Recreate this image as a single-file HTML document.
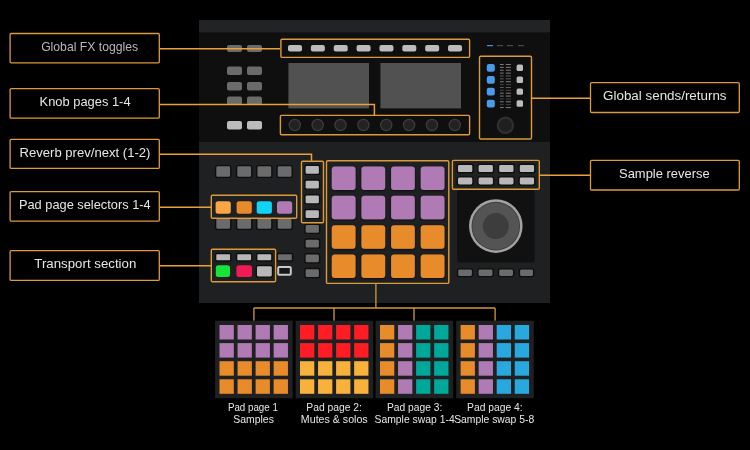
<!DOCTYPE html>
<html><head><meta charset="utf-8"><style>
html,body{margin:0;padding:0;background:#000;width:750px;height:450px;overflow:hidden}
svg{display:block}
text{font-family:"Liberation Sans",sans-serif}
</style></head><body>
<svg width="750" height="450" viewBox="0 0 750 450">
<defs><filter id="sh" x="-30%" y="-30%" width="160%" height="170%"><feDropShadow dx="0" dy="0.6" stdDeviation="0.9" flood-color="#000" flood-opacity="0.8"/></filter></defs>
<rect width="750" height="450" fill="#000"/>
<rect x="199.00" y="20.00" width="351.00" height="283.00" rx="0" fill="#1f2022" />
<rect x="199.00" y="20.00" width="351.00" height="12.50" rx="0" fill="#212325" />
<rect x="199.00" y="32.50" width="351.00" height="109.50" rx="0" fill="#0f0f0f" />
<rect x="227.00" y="45.00" width="15.00" height="7.00" rx="2" fill="#6b6b6b" />
<rect x="227.00" y="66.40" width="15.00" height="8.50" rx="2" fill="#6b6b6b" />
<rect x="227.00" y="82.00" width="15.00" height="8.50" rx="2" fill="#6b6b6b" />
<rect x="227.00" y="96.50" width="15.00" height="8.50" rx="2" fill="#6b6b6b" />
<rect x="227.00" y="121.00" width="15.00" height="8.60" rx="2" fill="#bcbcbc" />
<rect x="247.00" y="45.00" width="15.00" height="7.00" rx="2" fill="#6b6b6b" />
<rect x="247.00" y="66.40" width="15.00" height="8.50" rx="2" fill="#6b6b6b" />
<rect x="247.00" y="82.00" width="15.00" height="8.50" rx="2" fill="#6b6b6b" />
<rect x="247.00" y="96.50" width="15.00" height="8.50" rx="2" fill="#6b6b6b" />
<rect x="247.00" y="121.00" width="15.00" height="8.60" rx="2" fill="#bcbcbc" />
<rect x="288.40" y="63.00" width="80.60" height="45.40" rx="0" fill="#515151" />
<rect x="380.40" y="63.00" width="80.60" height="45.40" rx="0" fill="#515151" />
<rect x="288.00" y="45.00" width="14.00" height="6.50" rx="2" fill="#bcbcbc" />
<rect x="310.86" y="45.00" width="14.00" height="6.50" rx="2" fill="#bcbcbc" />
<rect x="333.72" y="45.00" width="14.00" height="6.50" rx="2" fill="#bcbcbc" />
<rect x="356.58" y="45.00" width="14.00" height="6.50" rx="2" fill="#bcbcbc" />
<rect x="379.44" y="45.00" width="14.00" height="6.50" rx="2" fill="#bcbcbc" />
<rect x="402.30" y="45.00" width="14.00" height="6.50" rx="2" fill="#bcbcbc" />
<rect x="425.16" y="45.00" width="14.00" height="6.50" rx="2" fill="#bcbcbc" />
<rect x="448.02" y="45.00" width="14.00" height="6.50" rx="2" fill="#bcbcbc" />
<circle cx="294.80" cy="125.00" r="5.60" fill="#222222" stroke="#3c3c3c" stroke-width="1.3"/>
<circle cx="317.66" cy="125.00" r="5.60" fill="#222222" stroke="#3c3c3c" stroke-width="1.3"/>
<circle cx="340.52" cy="125.00" r="5.60" fill="#222222" stroke="#3c3c3c" stroke-width="1.3"/>
<circle cx="363.38" cy="125.00" r="5.60" fill="#222222" stroke="#3c3c3c" stroke-width="1.3"/>
<circle cx="386.24" cy="125.00" r="5.60" fill="#222222" stroke="#3c3c3c" stroke-width="1.3"/>
<circle cx="409.10" cy="125.00" r="5.60" fill="#222222" stroke="#3c3c3c" stroke-width="1.3"/>
<circle cx="431.96" cy="125.00" r="5.60" fill="#222222" stroke="#3c3c3c" stroke-width="1.3"/>
<circle cx="454.82" cy="125.00" r="5.60" fill="#222222" stroke="#3c3c3c" stroke-width="1.3"/>
<rect x="487.00" y="45.00" width="6.00" height="1.20" rx="0" fill="#4a90e2" />
<rect x="497.00" y="45.00" width="6.00" height="1.20" rx="0" fill="#4a4a4a" />
<rect x="507.00" y="45.00" width="6.00" height="1.20" rx="0" fill="#4a4a4a" />
<rect x="518.00" y="45.00" width="6.00" height="1.20" rx="0" fill="#4a4a4a" />
<rect x="486.80" y="64.00" width="8.00" height="7.80" rx="2" fill="#4a9be8" />
<rect x="516.60" y="64.60" width="6.40" height="6.40" rx="1.5" fill="#bcbcbc" />
<rect x="486.80" y="75.90" width="8.00" height="7.80" rx="2" fill="#4a9be8" />
<rect x="516.60" y="76.50" width="6.40" height="6.40" rx="1.5" fill="#bcbcbc" />
<rect x="486.80" y="87.80" width="8.00" height="7.80" rx="2" fill="#4a9be8" />
<rect x="516.60" y="88.40" width="6.40" height="6.40" rx="1.5" fill="#bcbcbc" />
<rect x="486.80" y="99.70" width="8.00" height="7.80" rx="2" fill="#4a9be8" />
<rect x="516.60" y="100.30" width="6.40" height="6.40" rx="1.5" fill="#bcbcbc" />
<rect x="500.00" y="64.00" width="3.70" height="1.00" rx="0" fill="#7c7c7c" />
<rect x="505.80" y="64.00" width="5.10" height="1.00" rx="0" fill="#7c7c7c" />
<rect x="500.00" y="66.87" width="3.70" height="1.00" rx="0" fill="#7c7c7c" />
<rect x="505.80" y="66.87" width="5.10" height="1.00" rx="0" fill="#7c7c7c" />
<rect x="500.00" y="69.74" width="3.70" height="1.00" rx="0" fill="#7c7c7c" />
<rect x="505.80" y="69.74" width="5.10" height="1.00" rx="0" fill="#7c7c7c" />
<rect x="500.00" y="72.61" width="3.70" height="1.00" rx="0" fill="#7c7c7c" />
<rect x="505.80" y="72.61" width="5.10" height="1.00" rx="0" fill="#7c7c7c" />
<rect x="500.00" y="75.48" width="3.70" height="1.00" rx="0" fill="#5e5e5e" />
<rect x="505.80" y="75.48" width="5.10" height="1.00" rx="0" fill="#5e5e5e" />
<rect x="500.00" y="78.35" width="3.70" height="1.00" rx="0" fill="#5e5e5e" />
<rect x="505.80" y="78.35" width="5.10" height="1.00" rx="0" fill="#5e5e5e" />
<rect x="500.00" y="81.22" width="3.70" height="1.00" rx="0" fill="#7c7c7c" />
<rect x="505.80" y="81.22" width="5.10" height="1.00" rx="0" fill="#7c7c7c" />
<rect x="500.00" y="84.09" width="3.70" height="1.00" rx="0" fill="#454545" />
<rect x="505.80" y="84.09" width="5.10" height="1.00" rx="0" fill="#454545" />
<rect x="500.00" y="86.96" width="3.70" height="1.00" rx="0" fill="#5e5e5e" />
<rect x="505.80" y="86.96" width="5.10" height="1.00" rx="0" fill="#5e5e5e" />
<rect x="500.00" y="89.83" width="3.70" height="1.00" rx="0" fill="#454545" />
<rect x="505.80" y="89.83" width="5.10" height="1.00" rx="0" fill="#454545" />
<rect x="500.00" y="92.70" width="3.70" height="1.00" rx="0" fill="#7c7c7c" />
<rect x="505.80" y="92.70" width="5.10" height="1.00" rx="0" fill="#7c7c7c" />
<rect x="500.00" y="95.57" width="3.70" height="1.00" rx="0" fill="#7c7c7c" />
<rect x="505.80" y="95.57" width="5.10" height="1.00" rx="0" fill="#7c7c7c" />
<rect x="500.00" y="98.44" width="3.70" height="1.00" rx="0" fill="#454545" />
<rect x="505.80" y="98.44" width="5.10" height="1.00" rx="0" fill="#454545" />
<rect x="500.00" y="101.31" width="3.70" height="1.00" rx="0" fill="#7c7c7c" />
<rect x="505.80" y="101.31" width="5.10" height="1.00" rx="0" fill="#7c7c7c" />
<rect x="500.00" y="104.18" width="3.70" height="1.00" rx="0" fill="#454545" />
<rect x="505.80" y="104.18" width="5.10" height="1.00" rx="0" fill="#454545" />
<rect x="500.00" y="107.05" width="3.70" height="1.00" rx="0" fill="#7c7c7c" />
<rect x="505.80" y="107.05" width="5.10" height="1.00" rx="0" fill="#7c7c7c" />
<rect x="500" y="76" width="10.9" height="3.5" fill="#111" opacity="0"/>
<circle cx="505.40" cy="125.30" r="7.60" fill="#1f1f1f" stroke="#303030" stroke-width="2.2"/>
<rect x="215.60" y="165.60" width="15.20" height="11.80" rx="2" fill="#6b6b6b" stroke="#0e0e0e" stroke-width="1.4"/>
<rect x="215.60" y="217.60" width="15.20" height="11.80" rx="2" fill="#6b6b6b" stroke="#0e0e0e" stroke-width="1.4"/>
<rect x="236.60" y="165.60" width="15.20" height="11.80" rx="2" fill="#6b6b6b" stroke="#0e0e0e" stroke-width="1.4"/>
<rect x="236.60" y="217.60" width="15.20" height="11.80" rx="2" fill="#6b6b6b" stroke="#0e0e0e" stroke-width="1.4"/>
<rect x="256.70" y="165.60" width="15.20" height="11.80" rx="2" fill="#6b6b6b" stroke="#0e0e0e" stroke-width="1.4"/>
<rect x="256.70" y="217.60" width="15.20" height="11.80" rx="2" fill="#6b6b6b" stroke="#0e0e0e" stroke-width="1.4"/>
<rect x="277.00" y="165.60" width="15.20" height="11.80" rx="2" fill="#6b6b6b" stroke="#0e0e0e" stroke-width="1.4"/>
<rect x="277.00" y="217.60" width="15.20" height="11.80" rx="2" fill="#6b6b6b" stroke="#0e0e0e" stroke-width="1.4"/>
<rect x="215.60" y="201.30" width="15.20" height="12.40" rx="2.5" fill="#f9a646" />
<rect x="236.60" y="201.30" width="15.20" height="12.40" rx="2.5" fill="#e88a2b" />
<rect x="256.70" y="201.30" width="15.20" height="12.40" rx="2.5" fill="#12d3f3" />
<rect x="277.00" y="201.30" width="15.20" height="12.40" rx="2.5" fill="#b07ab5" />
<rect x="304.90" y="165.20" width="14.70" height="9.20" rx="2" fill="#b8b8b8" stroke="#0e0e0e" stroke-width="1.4"/>
<rect x="304.90" y="179.95" width="14.70" height="9.20" rx="2" fill="#b8b8b8" stroke="#0e0e0e" stroke-width="1.4"/>
<rect x="304.90" y="194.70" width="14.70" height="9.20" rx="2" fill="#b8b8b8" stroke="#0e0e0e" stroke-width="1.4"/>
<rect x="304.90" y="209.45" width="14.70" height="9.20" rx="2" fill="#b8b8b8" stroke="#0e0e0e" stroke-width="1.4"/>
<rect x="304.90" y="224.20" width="14.70" height="9.20" rx="2" fill="#6b6b6b" stroke="#0e0e0e" stroke-width="1.4"/>
<rect x="304.90" y="238.95" width="14.70" height="9.20" rx="2" fill="#6b6b6b" stroke="#0e0e0e" stroke-width="1.4"/>
<rect x="304.90" y="253.70" width="14.70" height="9.20" rx="2" fill="#6b6b6b" stroke="#0e0e0e" stroke-width="1.4"/>
<rect x="304.90" y="268.45" width="14.70" height="9.20" rx="2" fill="#6b6b6b" stroke="#0e0e0e" stroke-width="1.4"/>
<rect x="215.60" y="253.50" width="15.20" height="7.50" rx="1.5" fill="#b8b8b8" stroke="#0e0e0e" stroke-width="1.4"/>
<rect x="236.60" y="253.50" width="15.20" height="7.50" rx="1.5" fill="#b8b8b8" stroke="#0e0e0e" stroke-width="1.4"/>
<rect x="256.70" y="253.50" width="15.20" height="7.50" rx="1.5" fill="#b8b8b8" stroke="#0e0e0e" stroke-width="1.4"/>
<rect x="277.20" y="253.50" width="15.30" height="7.50" rx="1.5" fill="#6b6b6b" stroke="#0e0e0e" stroke-width="1.4"/>
<rect x="215.80" y="265.30" width="14.20" height="11.70" rx="2.5" fill="#19e33b" />
<rect x="236.40" y="265.30" width="15.60" height="11.70" rx="2.5" fill="#f01b55" />
<rect x="256.30" y="265.50" width="16.20" height="11.60" rx="2" fill="#b8b8b8" stroke="#0e0e0e" stroke-width="1.4"/>
<rect x="278.2" y="267" width="12.6" height="7.7" rx="1" fill="#161616" stroke="#c8c8c8" stroke-width="2"/>
<rect x="331.80" y="166.40" width="23.70" height="23.50" rx="3" fill="#b07ab5" filter="url(#sh)"/>
<rect x="361.45" y="166.40" width="23.70" height="23.50" rx="3" fill="#b07ab5" filter="url(#sh)"/>
<rect x="391.10" y="166.40" width="23.70" height="23.50" rx="3" fill="#b07ab5" filter="url(#sh)"/>
<rect x="420.75" y="166.40" width="23.70" height="23.50" rx="3" fill="#b07ab5" filter="url(#sh)"/>
<rect x="331.80" y="195.80" width="23.70" height="23.50" rx="3" fill="#b07ab5" filter="url(#sh)"/>
<rect x="361.45" y="195.80" width="23.70" height="23.50" rx="3" fill="#b07ab5" filter="url(#sh)"/>
<rect x="391.10" y="195.80" width="23.70" height="23.50" rx="3" fill="#b07ab5" filter="url(#sh)"/>
<rect x="420.75" y="195.80" width="23.70" height="23.50" rx="3" fill="#b07ab5" filter="url(#sh)"/>
<rect x="331.80" y="225.20" width="23.70" height="23.50" rx="3" fill="#e88b2b" filter="url(#sh)"/>
<rect x="361.45" y="225.20" width="23.70" height="23.50" rx="3" fill="#e88b2b" filter="url(#sh)"/>
<rect x="391.10" y="225.20" width="23.70" height="23.50" rx="3" fill="#e88b2b" filter="url(#sh)"/>
<rect x="420.75" y="225.20" width="23.70" height="23.50" rx="3" fill="#e88b2b" filter="url(#sh)"/>
<rect x="331.80" y="254.60" width="23.70" height="23.50" rx="3" fill="#e88b2b" filter="url(#sh)"/>
<rect x="361.45" y="254.60" width="23.70" height="23.50" rx="3" fill="#e88b2b" filter="url(#sh)"/>
<rect x="391.10" y="254.60" width="23.70" height="23.50" rx="3" fill="#e88b2b" filter="url(#sh)"/>
<rect x="420.75" y="254.60" width="23.70" height="23.50" rx="3" fill="#e88b2b" filter="url(#sh)"/>
<rect x="457.30" y="164.30" width="15.70" height="8.40" rx="2" fill="#b8b8b8" stroke="#0e0e0e" stroke-width="1.4"/>
<rect x="457.30" y="176.90" width="15.70" height="8.20" rx="2" fill="#b8b8b8" stroke="#0e0e0e" stroke-width="1.4"/>
<rect x="477.90" y="164.30" width="15.70" height="8.40" rx="2" fill="#b8b8b8" stroke="#0e0e0e" stroke-width="1.4"/>
<rect x="477.90" y="176.90" width="15.70" height="8.20" rx="2" fill="#b8b8b8" stroke="#0e0e0e" stroke-width="1.4"/>
<rect x="498.50" y="164.30" width="15.70" height="8.40" rx="2" fill="#b8b8b8" stroke="#0e0e0e" stroke-width="1.4"/>
<rect x="498.50" y="176.90" width="15.70" height="8.20" rx="2" fill="#b8b8b8" stroke="#0e0e0e" stroke-width="1.4"/>
<rect x="519.10" y="164.30" width="15.70" height="8.40" rx="2" fill="#b8b8b8" stroke="#0e0e0e" stroke-width="1.4"/>
<rect x="519.10" y="176.90" width="15.70" height="8.20" rx="2" fill="#b8b8b8" stroke="#0e0e0e" stroke-width="1.4"/>
<rect x="457.00" y="190.00" width="77.70" height="72.40" rx="2" fill="#111111" />
<circle cx="495.80" cy="226.10" r="26.80" fill="#a2a2a2" stroke="none" stroke-width="0"/>
<circle cx="495.80" cy="226.10" r="24.30" fill="#3e3e3e" stroke="none" stroke-width="0"/>
<circle cx="495.80" cy="226.10" r="23.40" fill="#545454" stroke="none" stroke-width="0"/>
<circle cx="495.80" cy="226.10" r="13.00" fill="#3d3d3d" stroke="none" stroke-width="0"/>
<rect x="457.50" y="268.90" width="15.10" height="7.70" rx="2" fill="#6b6b6b" stroke="#0e0e0e" stroke-width="1.4"/>
<rect x="477.80" y="268.90" width="15.40" height="7.70" rx="2" fill="#6b6b6b" stroke="#0e0e0e" stroke-width="1.4"/>
<rect x="498.50" y="268.90" width="15.20" height="7.70" rx="2" fill="#6b6b6b" stroke="#0e0e0e" stroke-width="1.4"/>
<rect x="519.40" y="268.90" width="14.30" height="7.70" rx="2" fill="#6b6b6b" stroke="#0e0e0e" stroke-width="1.4"/>
<rect x="280.90" y="39.20" width="188.70" height="18.20" rx="1.2" fill="none" stroke="#dc9b3a" stroke-width="1.4"/>
<rect x="280.40" y="115.40" width="189.20" height="19.40" rx="1.2" fill="none" stroke="#dc9b3a" stroke-width="1.4"/>
<rect x="479.50" y="56.30" width="52.00" height="82.70" rx="1.2" fill="none" stroke="#dc9b3a" stroke-width="1.4"/>
<rect x="301.50" y="161.20" width="22.00" height="61.60" rx="1.2" fill="none" stroke="#dc9b3a" stroke-width="1.4"/>
<rect x="211.30" y="195.30" width="85.40" height="23.00" rx="1.2" fill="none" stroke="#dc9b3a" stroke-width="1.4"/>
<rect x="211.30" y="249.30" width="64.30" height="32.50" rx="1.2" fill="none" stroke="#dc9b3a" stroke-width="1.4"/>
<rect x="326.50" y="160.80" width="122.30" height="122.60" rx="1.2" fill="none" stroke="#dc9b3a" stroke-width="1.4"/>
<rect x="452.40" y="160.40" width="86.90" height="28.90" rx="1.2" fill="none" stroke="#dc9b3a" stroke-width="1.4"/>
<path d="M160.00 48.80 L280.00 48.80" fill="none" stroke="#e9a23b" stroke-width="1.5"/>
<path d="M160.00 104.40 L374.40 104.40 L374.40 115.40" fill="none" stroke="#e9a23b" stroke-width="1.5"/>
<path d="M160.00 154.20 L311.50 154.20 L311.50 160.80" fill="none" stroke="#e9a23b" stroke-width="1.5"/>
<path d="M160.00 207.30 L211.40 207.30" fill="none" stroke="#e9a23b" stroke-width="1.5"/>
<path d="M160.00 265.70 L211.40 265.70" fill="none" stroke="#e9a23b" stroke-width="1.5"/>
<path d="M531.50 98.20 L590.00 98.20" fill="none" stroke="#e9a23b" stroke-width="1.5"/>
<path d="M539.30 175.20 L590.00 175.20" fill="none" stroke="#e9a23b" stroke-width="1.5"/>
<path d="M375.90 283.40 L375.90 308.00" fill="none" stroke="#d39838" stroke-width="1.3"/>
<path d="M253.90 308.00 L495.10 308.00" fill="none" stroke="#d39838" stroke-width="1.3"/>
<path d="M253.90 308.00 L253.90 320.70" fill="none" stroke="#d39838" stroke-width="1.3"/>
<path d="M334.00 308.00 L334.00 320.70" fill="none" stroke="#d39838" stroke-width="1.3"/>
<path d="M414.00 308.00 L414.00 320.70" fill="none" stroke="#d39838" stroke-width="1.3"/>
<path d="M495.10 308.00 L495.10 320.70" fill="none" stroke="#d39838" stroke-width="1.3"/>
<rect x="10.10" y="33.50" width="149.20" height="29.30" rx="1.2" fill="#000" stroke="#dc9b3a" stroke-width="1.3"/>
<rect x="10.10" y="88.60" width="149.20" height="29.60" rx="1.2" fill="#000" stroke="#dc9b3a" stroke-width="1.3"/>
<rect x="10.10" y="139.30" width="149.20" height="29.10" rx="1.2" fill="#000" stroke="#dc9b3a" stroke-width="1.3"/>
<rect x="10.10" y="191.60" width="149.20" height="29.60" rx="1.2" fill="#000" stroke="#dc9b3a" stroke-width="1.3"/>
<rect x="10.10" y="250.60" width="149.20" height="29.80" rx="1.2" fill="#000" stroke="#dc9b3a" stroke-width="1.3"/>
<rect x="590.50" y="82.70" width="148.80" height="29.80" rx="1.2" fill="#000" stroke="#dc9b3a" stroke-width="1.3"/>
<rect x="590.50" y="160.30" width="148.80" height="29.70" rx="1.2" fill="#000" stroke="#dc9b3a" stroke-width="1.3"/>
<rect x="215.10" y="320.70" width="77.60" height="77.60" rx="0" fill="#1f2022" />
<rect x="219.50" y="325.00" width="14.30" height="14.50" rx="0" fill="#b07ab5" />
<rect x="237.55" y="325.00" width="14.30" height="14.50" rx="0" fill="#b07ab5" />
<rect x="255.60" y="325.00" width="14.30" height="14.50" rx="0" fill="#b07ab5" />
<rect x="273.65" y="325.00" width="14.30" height="14.50" rx="0" fill="#b07ab5" />
<rect x="219.50" y="343.10" width="14.30" height="14.50" rx="0" fill="#b07ab5" />
<rect x="237.55" y="343.10" width="14.30" height="14.50" rx="0" fill="#b07ab5" />
<rect x="255.60" y="343.10" width="14.30" height="14.50" rx="0" fill="#b07ab5" />
<rect x="273.65" y="343.10" width="14.30" height="14.50" rx="0" fill="#b07ab5" />
<rect x="219.50" y="361.20" width="14.30" height="14.50" rx="0" fill="#e88b2b" />
<rect x="237.55" y="361.20" width="14.30" height="14.50" rx="0" fill="#e88b2b" />
<rect x="255.60" y="361.20" width="14.30" height="14.50" rx="0" fill="#e88b2b" />
<rect x="273.65" y="361.20" width="14.30" height="14.50" rx="0" fill="#e88b2b" />
<rect x="219.50" y="379.30" width="14.30" height="14.50" rx="0" fill="#e88b2b" />
<rect x="237.55" y="379.30" width="14.30" height="14.50" rx="0" fill="#e88b2b" />
<rect x="255.60" y="379.30" width="14.30" height="14.50" rx="0" fill="#e88b2b" />
<rect x="273.65" y="379.30" width="14.30" height="14.50" rx="0" fill="#e88b2b" />
<rect x="295.60" y="320.70" width="77.60" height="77.60" rx="0" fill="#1f2022" />
<rect x="300.00" y="325.00" width="14.30" height="14.50" rx="0" fill="#ff1c24" />
<rect x="318.05" y="325.00" width="14.30" height="14.50" rx="0" fill="#ff1c24" />
<rect x="336.10" y="325.00" width="14.30" height="14.50" rx="0" fill="#ff1c24" />
<rect x="354.15" y="325.00" width="14.30" height="14.50" rx="0" fill="#ff1c24" />
<rect x="300.00" y="343.10" width="14.30" height="14.50" rx="0" fill="#ff1c24" />
<rect x="318.05" y="343.10" width="14.30" height="14.50" rx="0" fill="#ff1c24" />
<rect x="336.10" y="343.10" width="14.30" height="14.50" rx="0" fill="#ff1c24" />
<rect x="354.15" y="343.10" width="14.30" height="14.50" rx="0" fill="#ff1c24" />
<rect x="300.00" y="361.20" width="14.30" height="14.50" rx="0" fill="#f8b23b" />
<rect x="318.05" y="361.20" width="14.30" height="14.50" rx="0" fill="#f8b23b" />
<rect x="336.10" y="361.20" width="14.30" height="14.50" rx="0" fill="#f8b23b" />
<rect x="354.15" y="361.20" width="14.30" height="14.50" rx="0" fill="#f8b23b" />
<rect x="300.00" y="379.30" width="14.30" height="14.50" rx="0" fill="#f8b23b" />
<rect x="318.05" y="379.30" width="14.30" height="14.50" rx="0" fill="#f8b23b" />
<rect x="336.10" y="379.30" width="14.30" height="14.50" rx="0" fill="#f8b23b" />
<rect x="354.15" y="379.30" width="14.30" height="14.50" rx="0" fill="#f8b23b" />
<rect x="375.60" y="320.70" width="77.60" height="77.60" rx="0" fill="#1f2022" />
<rect x="380.00" y="325.00" width="14.30" height="14.50" rx="0" fill="#e88b2b" />
<rect x="398.05" y="325.00" width="14.30" height="14.50" rx="0" fill="#b07ab5" />
<rect x="416.10" y="325.00" width="14.30" height="14.50" rx="0" fill="#00a89a" />
<rect x="434.15" y="325.00" width="14.30" height="14.50" rx="0" fill="#00a89a" />
<rect x="380.00" y="343.10" width="14.30" height="14.50" rx="0" fill="#e88b2b" />
<rect x="398.05" y="343.10" width="14.30" height="14.50" rx="0" fill="#b07ab5" />
<rect x="416.10" y="343.10" width="14.30" height="14.50" rx="0" fill="#00a89a" />
<rect x="434.15" y="343.10" width="14.30" height="14.50" rx="0" fill="#00a89a" />
<rect x="380.00" y="361.20" width="14.30" height="14.50" rx="0" fill="#e88b2b" />
<rect x="398.05" y="361.20" width="14.30" height="14.50" rx="0" fill="#b07ab5" />
<rect x="416.10" y="361.20" width="14.30" height="14.50" rx="0" fill="#00a89a" />
<rect x="434.15" y="361.20" width="14.30" height="14.50" rx="0" fill="#00a89a" />
<rect x="380.00" y="379.30" width="14.30" height="14.50" rx="0" fill="#e88b2b" />
<rect x="398.05" y="379.30" width="14.30" height="14.50" rx="0" fill="#b07ab5" />
<rect x="416.10" y="379.30" width="14.30" height="14.50" rx="0" fill="#00a89a" />
<rect x="434.15" y="379.30" width="14.30" height="14.50" rx="0" fill="#00a89a" />
<rect x="456.20" y="320.70" width="77.60" height="77.60" rx="0" fill="#1f2022" />
<rect x="460.60" y="325.00" width="14.30" height="14.50" rx="0" fill="#e88b2b" />
<rect x="478.65" y="325.00" width="14.30" height="14.50" rx="0" fill="#b07ab5" />
<rect x="496.70" y="325.00" width="14.30" height="14.50" rx="0" fill="#29a8e0" />
<rect x="514.75" y="325.00" width="14.30" height="14.50" rx="0" fill="#29a8e0" />
<rect x="460.60" y="343.10" width="14.30" height="14.50" rx="0" fill="#e88b2b" />
<rect x="478.65" y="343.10" width="14.30" height="14.50" rx="0" fill="#b07ab5" />
<rect x="496.70" y="343.10" width="14.30" height="14.50" rx="0" fill="#29a8e0" />
<rect x="514.75" y="343.10" width="14.30" height="14.50" rx="0" fill="#29a8e0" />
<rect x="460.60" y="361.20" width="14.30" height="14.50" rx="0" fill="#e88b2b" />
<rect x="478.65" y="361.20" width="14.30" height="14.50" rx="0" fill="#b07ab5" />
<rect x="496.70" y="361.20" width="14.30" height="14.50" rx="0" fill="#29a8e0" />
<rect x="514.75" y="361.20" width="14.30" height="14.50" rx="0" fill="#29a8e0" />
<rect x="460.60" y="379.30" width="14.30" height="14.50" rx="0" fill="#e88b2b" />
<rect x="478.65" y="379.30" width="14.30" height="14.50" rx="0" fill="#b07ab5" />
<rect x="496.70" y="379.30" width="14.30" height="14.50" rx="0" fill="#29a8e0" />
<rect x="514.75" y="379.30" width="14.30" height="14.50" rx="0" fill="#29a8e0" />
<g style="opacity:0.999"><text x="41.14" y="51.00" font-size="13.6" fill="#b8b8b8" textLength="96.98" lengthAdjust="spacingAndGlyphs">Global FX toggles</text><text x="39.58" y="106.20" font-size="13.6" fill="#e6e6e6" textLength="91.02" lengthAdjust="spacingAndGlyphs">Knob pages 1-4</text><text x="19.53" y="156.70" font-size="13.6" fill="#e6e6e6" textLength="130.89" lengthAdjust="spacingAndGlyphs">Reverb prev/next (1-2)</text><text x="18.91" y="209.30" font-size="13.6" fill="#e6e6e6" textLength="131.75" lengthAdjust="spacingAndGlyphs">Pad page selectors 1-4</text><text x="34.32" y="268.20" font-size="13.6" fill="#e6e6e6" textLength="102.00" lengthAdjust="spacingAndGlyphs">Transport section</text><text x="603.11" y="100.40" font-size="13.6" fill="#e6e6e6" textLength="123.45" lengthAdjust="spacingAndGlyphs">Global sends/returns</text><text x="618.99" y="177.80" font-size="13.6" fill="#e6e6e6" textLength="90.74" lengthAdjust="spacingAndGlyphs">Sample reverse</text><text x="227.94" y="410.60" font-size="10.8" fill="#e6e6e6" textLength="49.88" lengthAdjust="spacingAndGlyphs">Pad page 1</text><text x="233.25" y="423.00" font-size="10.8" fill="#e6e6e6" textLength="40.67" lengthAdjust="spacingAndGlyphs">Samples</text><text x="306.25" y="410.60" font-size="10.8" fill="#e6e6e6" textLength="55.74" lengthAdjust="spacingAndGlyphs">Pad page 2:</text><text x="300.86" y="423.00" font-size="10.8" fill="#e6e6e6" textLength="66.79" lengthAdjust="spacingAndGlyphs">Mutes &amp; solos</text><text x="386.98" y="410.60" font-size="10.8" fill="#e6e6e6" textLength="55.27" lengthAdjust="spacingAndGlyphs">Pad page 3:</text><text x="374.53" y="423.00" font-size="10.8" fill="#e6e6e6" textLength="80.16" lengthAdjust="spacingAndGlyphs">Sample swap 1-4</text><text x="467.07" y="410.60" font-size="10.8" fill="#e6e6e6" textLength="55.51" lengthAdjust="spacingAndGlyphs">Pad page 4:</text><text x="454.20" y="423.00" font-size="10.8" fill="#e6e6e6" textLength="79.96" lengthAdjust="spacingAndGlyphs">Sample swap 5-8</text></g>
</svg>
</body></html>
